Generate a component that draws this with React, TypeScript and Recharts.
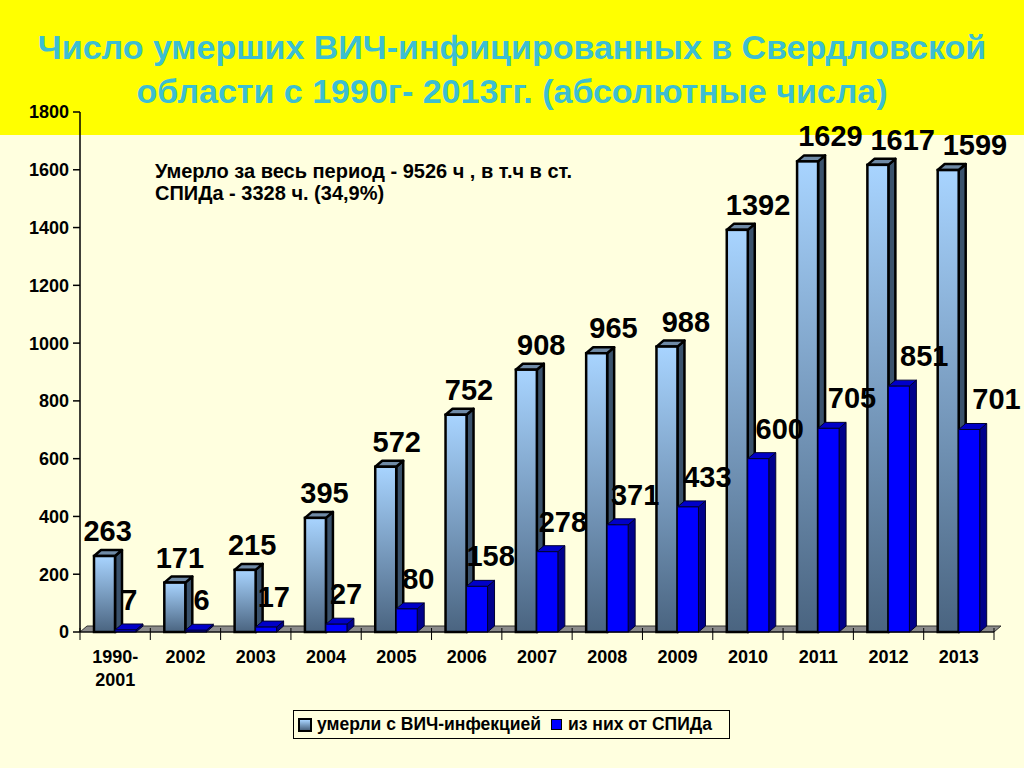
import React from 'react';
import { BarChart, Bar, XAxis, YAxis, CartesianGrid, LabelList } from 'recharts';

const years = ['1990-2001', '2002', '2003', '2004', '2005', '2006', '2007', '2008', '2009', '2010', '2011', '2012', '2013'];
const hivDeaths = [263, 171, 215, 395, 572, 752, 908, 965, 988, 1392, 1629, 1617, 1599];
const aidsDeaths = [7, 6, 17, 27, 80, 158, 278, 371, 433, 600, 705, 851, 701];
const yTicks = [0, 200, 400, 600, 800, 1000, 1200, 1400, 1600, 1800];

const data = years.map((year, i) => ({ year, hiv: hivDeaths[i], aids: aidsDeaths[i] }));

const W = 1024;
const H = 768;
const PLOT_LEFT = 80;
const PLOT_RIGHT = 994;
const BAND = (PLOT_RIGHT - PLOT_LEFT) / years.length;
const DX = 7;
const DY = 6;
const FONT = 'Arial, "Liberation Sans", Helvetica, sans-serif';

function make3DBar(front: string, side: string, top: string, stroke: string, sw: number) {
  return (props: any) => {
    const { x, y, width, height } = props;
    if (width == null || height == null) return <g />;
    const h = Math.max(height, 1);
    const yy = y + height - h;
    return (
      <g>
        <polygon
          points={`${x + width},${yy} ${x + width + DX},${yy - DY} ${x + width + DX},${yy + h - DY} ${x + width},${yy + h}`}
          fill={side}
          stroke={stroke}
          strokeWidth={sw}
          strokeLinejoin="round"
        />
        <polygon
          points={`${x},${yy} ${x + DX},${yy - DY} ${x + width + DX},${yy - DY} ${x + width},${yy}`}
          fill={top}
          stroke={stroke}
          strokeWidth={sw}
          strokeLinejoin="round"
        />
        <rect x={x} y={yy} width={width} height={h} fill={front} stroke={stroke} strokeWidth={sw} />
      </g>
    );
  };
}

const hivShape = make3DBar('url(#hivFront)', '#3a526c', '#6f8aa6', '#000', 2.5);
const aidsShape = make3DBar('#0000ff', '#00008c', '#0000c8', '#000030', 1);

function valueLabel(offsetY: number) {
  return (props: any) => {
    const { x, y, width, value } = props;
    const cx = x + width / 2;
    const shift = 3 + (cx - 100) * 0.028;
    return (
      <text
        x={cx + shift}
        y={y + offsetY}
        textAnchor="middle"
        fontFamily={FONT}
        fontWeight="bold"
        fontSize={29}
        fill="#000"
      >
        {value}
      </text>
    );
  };
}

const XTick = (props: any) => {
  const { x, y, payload, index } = props;
  const lines = String(payload.value).includes('-')
    ? [String(payload.value).split('-')[0] + '-', String(payload.value).split('-')[1]]
    : [String(payload.value)];
  const top = y - 8;
  return (
    <g>
      <line x1={x - BAND / 2} y1={top - 4} x2={x - BAND / 2} y2={top + 8} stroke="#000" strokeWidth={1} />
      {index === years.length - 1 && (
        <line x1={x + BAND / 2} y1={top - 4} x2={x + BAND / 2} y2={top + 8} stroke="#000" strokeWidth={1} />
      )}
      {lines.map((l, i) => (
        <text
          key={i}
          x={x}
          y={top + 31 + i * 23}
          textAnchor="middle"
          fontFamily={FONT}
          fontWeight="bold"
          fontSize={18}
          fill="#000"
        >
          {l}
        </text>
      ))}
    </g>
  );
};

const FloorLine = (props: any) => {
  const { x1, y1, x2, y2, y, height } = props;
  if (y != null && height != null && Math.abs(y1 - (y + height)) > 1) return <g />;
  return (
    <polygon
      points={`${x1},${y1} ${x2},${y2} ${x2 + DX},${y2 - DY} ${x1 + DX},${y1 - DY}`}
      fill="#8c8c8c"
      stroke="#333"
      strokeWidth={1}
    />
  );
};

export default function App() {
  return (
    <div style={{ position: 'absolute', left: 0, top: 0, width: W, height: H, background: '#ffffdf', overflow: 'hidden' }}>
      <div style={{ position: 'absolute', left: 0, top: 0, width: W, height: 135, background: '#ffff00' }} />
      <div
        style={{
          position: 'absolute',
          left: 0,
          top: 25,
          width: W,
          textAlign: 'center',
          fontFamily: FONT,
          fontWeight: 'bold',
          fontSize: 34,
          lineHeight: '44px',
          color: '#3cbed2',
        }}
      >
        Число умерших ВИЧ-инфицированных в Свердловской
        <br />
        области с 1990г- 2013гг. (абсолютные числа)
      </div>
      <div
        style={{
          position: 'absolute',
          left: 155,
          top: 160,
          fontFamily: FONT,
          fontWeight: 'bold',
          fontSize: 20,
          lineHeight: '22px',
          color: '#000',
        }}
      >
        Умерло за весь период - 9526 ч , в т.ч в ст.
        <br />
        СПИДа - 3328 ч. (34,9%)
      </div>
      <div style={{ position: 'absolute', left: 0, top: 0 }}>
        <BarChart
          width={W}
          height={H}
          data={data}
          margin={{ top: 112, right: W - PLOT_RIGHT, bottom: 96, left: 20 }}
          barSize={21}
          barGap={0}
        >
          <defs>
            <linearGradient id="hivFront" x1="0" y1="0" x2="0" y2="1">
              <stop offset="0%" stopColor="#a8d4ff" />
              <stop offset="100%" stopColor="#4a6480" />
            </linearGradient>
          </defs>
          <CartesianGrid vertical={false} horizontalValues={[0]} horizontal={FloorLine as any} stroke="none" />
          <XAxis
            dataKey="year"
            interval={0}
            height={40}
            tickLine={false}
            axisLine={{ stroke: '#000', strokeWidth: 1 }}
            tick={<XTick />}
          />
          <YAxis
            domain={[0, 1800]}
            ticks={yTicks}
            width={60}
            interval={0}
            tickSize={7}
            tickMargin={4}
            axisLine={{ stroke: '#000', strokeWidth: 1.5 }}
            tickLine={{ stroke: '#000', strokeWidth: 1.5 }}
            tick={{ fontFamily: FONT, fontWeight: 'bold', fontSize: 18, fill: '#000' }}
          />
          <Bar dataKey="hiv" shape={hivShape} isAnimationActive={false}>
            <LabelList dataKey="hiv" content={valueLabel(-15)} />
          </Bar>
          <Bar dataKey="aids" shape={aidsShape} isAnimationActive={false}>
            <LabelList dataKey="aids" content={valueLabel(-20)} />
          </Bar>
        </BarChart>
      </div>
      <div
        style={{
          position: 'absolute',
          left: 293,
          top: 710,
          width: 435,
          height: 27,
          border: '1px solid #000',
          display: 'flex',
          alignItems: 'center',
          fontFamily: FONT,
          fontWeight: 'bold',
          fontSize: 17.5,
          color: '#000',
          whiteSpace: 'nowrap',
        }}
      >
        <span
          style={{
            display: 'inline-block',
            width: 10,
            height: 10,
            marginLeft: 4,
            marginRight: 5,
            border: '2px solid #000',
            background: 'linear-gradient(#a8d4ff, #4a6480)',
          }}
        />
        умерли с ВИЧ-инфекцией
        <span
          style={{
            display: 'inline-block',
            width: 9,
            height: 9,
            marginLeft: 10,
            marginRight: 6,
            border: '1px solid #000',
            background: '#0000ff',
          }}
        />
        из них от СПИДа
      </div>
    </div>
  );
}
